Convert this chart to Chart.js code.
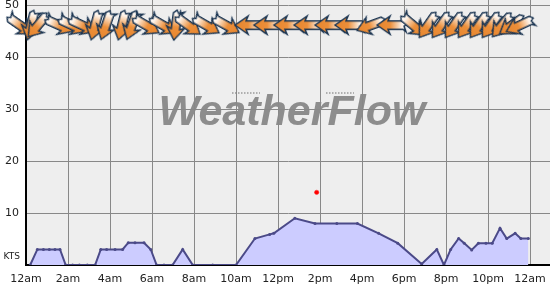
<!DOCTYPE html>
<html>
<head>
<meta charset="utf-8">
<script src="https://cdn.jsdelivr.net/npm/chart.js@4/dist/chart.umd.min.js"></script>
<style>
html,body{margin:0;padding:0;background:#fff;}
#wrap{width:550px;height:285px;}
</style>
</head>
<body>
<div id="wrap"><canvas id="c" width="550" height="285"></canvas></div>
<script>
// ---- data ----
const speedHours = [0.2, 0.54, 0.83, 1.11, 1.38, 1.62, 1.89, 2.22, 2.54, 2.92, 3.29, 3.56, 3.84, 4.24, 4.6, 4.87, 5.19, 5.62, 5.94, 6.22, 6.57, 6.98, 7.46, 7.94, 8.89, 10.0, 10.9, 11.6, 11.8, 12.8, 13.76, 14.8, 15.78, 16.79, 17.7, 18.84, 19.56, 19.9, 20.22, 20.6, 20.87, 21.22, 21.54, 21.9, 22.2, 22.57, 22.89, 23.29, 23.56, 23.92];
const speedKts = [0, 3, 3, 3, 3, 3, 0, 0, 0, 0, 0, 3, 3, 3, 3, 4.3, 4.3, 4.3, 3, 0, 0, 0, 3, 0, 0, 0, 5.1, 5.9, 6.1, 9.0, 8, 8, 8, 6.1, 4.2, 0.2, 3, 0, 3, 5.1, 4.2, 2.9, 4.2, 4.2, 4.2, 7.1, 5.1, 6.1, 5.1, 5.1];
const gustHours = [13.84];
const gustKts = [14];
const dirHours = [-0.29, 0.24, 0.57, 1.57, 2.19, 2.67, 3.29, 3.81, 4.57, 5.05, 5.71, 6.52, 7.14, 7.71, 8.57, 9.52, 10.67, 11.57, 12.52, 13.48, 14.48, 15.43, 16.43, 17.43, 18.43, 19.14, 19.76, 20.38, 21.0, 21.57, 22.14, 22.67, 23.14, 23.52];
const dirFromDeg = [305, 14, 40, 294, 295, 295, 15, 19, 14, 20, 300, 300, 8, 306, 300, 299, 90, 90, 90, 90, 90, 90, 70, 90, 310, 35, 35, 35, 35, 35, 35, 40, 55, 65];
const dirRowKts = 46.2;
const xTickHours = [0, 2, 4, 6, 8, 10, 12, 14, 16, 18, 20, 22, 24];
const xTickLabels = ['12am', '2am', '4am', '6am', '8am', '10am', '12pm', '2pm', '4pm', '6pm', '8pm', '10pm', '12am'];
const yTicks = [0, 10, 20, 30, 40, 50];
const yUnit = 'KTS';
const watermark = 'WeatherFlow';

// ---- arrow glyph ----
function makeArrow() {
  const W = 34, H = 22, cy = H / 2;
  const c = document.createElement('canvas');
  c.width = W; c.height = H;
  const g = c.getContext('2d');
  const tailX = 3, tipX = 32, neckX = 20, sh = 4.2, hh = 9;
  g.beginPath();
  g.moveTo(tipX, cy);
  g.lineTo(neckX - 1, cy - hh);
  g.lineTo(neckX + 1, cy - sh);
  g.lineTo(tailX + 3, cy - sh);
  g.lineTo(tailX, cy - sh - 2.5);
  g.lineTo(tailX + 2, cy - 1);
  g.lineTo(tailX - 1, cy + 1);
  g.lineTo(tailX + 2, cy + sh);
  g.lineTo(neckX + 1, cy + sh);
  g.lineTo(neckX - 1, cy + hh);
  g.closePath();
  const grad = g.createLinearGradient(tailX, 0, tipX, 0);
  grad.addColorStop(0, '#ffffff');
  grad.addColorStop(0.15, '#fdf1e6');
  grad.addColorStop(0.55, '#ec8f3a');
  grad.addColorStop(1, '#e8862e');
  g.fillStyle = grad;
  g.fill();
  g.strokeStyle = '#1a3451';
  g.lineWidth = 1.5;
  g.lineJoin = 'miter';
  g.stroke();
  return c;
}
const arrowImg = makeArrow();

const speedData = speedHours.map((h, i) => ({x: h, y: speedKts[i]}));
const gustData = gustHours.map((h, i) => ({x: h, y: gustKts[i]}));
const dirData = dirHours.map(h => ({x: h, y: dirRowKts}));
const dirRot = dirFromDeg.map(d => (d + 90) % 360);

const bgPlugin = {
  id: 'bg',
  beforeDraw(chart) {
    const {ctx, chartArea: a} = chart;
    ctx.save();
    ctx.fillStyle = '#ffffff';
    ctx.fillRect(0, 0, chart.width, chart.height);
    ctx.fillStyle = '#eeeeee';
    ctx.fillRect(a.left, a.top, a.right - a.left, a.bottom - a.top);
    // watermark
    ctx.fillStyle = '#8d8d8d';
    ctx.font = 'italic bold 43px "Liberation Sans", Arial, sans-serif';
    ctx.textAlign = 'center';
    ctx.textBaseline = 'alphabetic';
    ctx.fillText(watermark, 292, 125);
    ctx.strokeStyle = '#9a9a9a';
    ctx.lineWidth = 1.5;
    ctx.setLineDash([1.5, 1.5]);
    ctx.beginPath();
    ctx.moveTo(232, 93); ctx.lineTo(260, 93);
    ctx.moveTo(326, 93); ctx.lineTo(354, 93);
    ctx.stroke();
    ctx.restore();
  },
  afterDraw(chart) {
    const {ctx} = chart;
    const y = chart.scales.y.getPixelForValue(0) - 8;
    ctx.save();
    ctx.fillStyle = '#222';
    ctx.font = '9px "DejaVu Sans"';
    ctx.textAlign = 'right';
    ctx.textBaseline = 'middle';
    ctx.fillText(yUnit, 20, y);
    ctx.restore();
  }
};

new Chart(document.getElementById('c'), {
  type: 'line',
  data: {
    datasets: [
      {
        data: dirData,
        showLine: false,
        pointStyle: arrowImg,
        pointRotation: dirRot,
        pointRadius: 16,
        pointHoverRadius: 16,
        clip: false,
        order: 0
      },
      {
        data: gustData,
        showLine: false,
        pointStyle: 'circle',
        pointRadius: 2.2,
        pointBackgroundColor: '#ff0000',
        pointBorderColor: '#ff3333',
        pointBorderWidth: 0.5,
        order: 1
      },
      {
        data: speedData,
        borderColor: '#4b4a88',
        borderWidth: 2,
        backgroundColor: '#ccccff',
        fill: 'origin',
        tension: 0,
        pointRadius: 1.5,
        pointBackgroundColor: '#4b4a88',
        pointBorderWidth: 0,
        order: 2
      }
    ]
  },
  options: {
    responsive: false,
    animation: false,
    devicePixelRatio: 1,
    layout: {padding: 0, autoPadding: false},
    plugins: {legend: {display: false}, tooltip: {enabled: false}},
    events: [],
    scales: {
      x: {
        type: 'linear',
        min: 0,
        max: 24.95,
        afterBuildTicks: s => { s.ticks = xTickHours.map(v => ({value: v})); },
        afterFit: s => { s.height = 20; s.paddingLeft = 0; s.paddingRight = 0; },
        ticks: {
          callback: (v, i) => xTickLabels[i],
          maxRotation: 0,
          autoSkip: false,
          padding: 8,
          color: '#222',
          font: {family: '"DejaVu Sans"', size: 11}
        },
        grid: {color: '#888888', lineWidth: 1, drawTicks: false},
        border: {color: '#000000', width: 2}
      },
      y: {
        min: 0,
        max: 51.06,
        afterBuildTicks: s => { s.ticks = yTicks.map(v => ({value: v})); },
        afterFit: s => { s.width = 26; s.paddingTop = 0; s.paddingBottom = 0; },
        ticks: {
          callback: v => (v === 0 ? '' : String(v)),
          padding: 7,
          color: '#222',
          font: {family: '"DejaVu Sans"', size: 11}
        },
        grid: {color: '#888888', lineWidth: 1, drawTicks: false},
        border: {color: '#000000', width: 2}
      }
    }
  },
  plugins: [bgPlugin]
});
</script>
</body>
</html>
